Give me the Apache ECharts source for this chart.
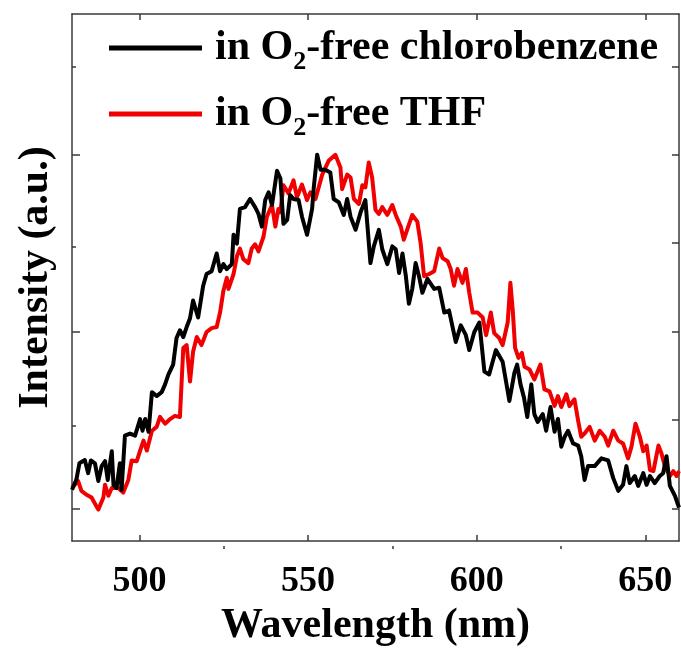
<!DOCTYPE html>
<html>
<head>
<meta charset="UTF-8">
<title>Emission spectra</title>
<style>
html,body{margin:0;padding:0;background:#fff;}
#chart{width:681px;height:652px;}
</style>
</head>
<body>
<div id="chart"></div>
<script src="https://cdn.jsdelivr.net/npm/echarts@6/dist/echarts.min.js"></script>
<script>
// values: wavelength (nm) and normalised intensity
let cbWave = [480.0,481.3,482.2,483.8,484.8,485.6,486.8,487.8,488.8,489.8,490.6,491.8,492.3,493.2,494.2,494.7,495.7,497.2,498.7,500.2,500.9,501.7,502.7,503.7,505.1,506.6,507.6,508.6,510.0,511.0,512.0,513.0,514.0,515.0,515.9,517.4,518.9,519.9,521.4,522.9,523.9,524.9,525.9,527.4,527.9,528.9,529.8,531.3,532.8,534.3,535.3,536.3,537.3,538.3,539.3,540.8,541.8,542.7,543.8,544.7,545.7,547.2,548.2,549.7,551.2,551.7,552.7,553.7,555.1,556.6,557.6,559.1,560.6,561.6,562.6,564.1,565.6,567.0,568.5,569.5,571.0,572.0,573.5,575.0,576.0,577.0,578.0,579.0,579.9,580.9,581.9,582.9,583.9,585.4,587.4,588.9,590.4,591.8,593.8,595.3,596.8,597.8,599.3,600.8,602.3,603.7,605.7,607.7,609.7,611.2,612.0,613.0,614.0,615.0,616.2,617.1,618.1,619.6,620.6,621.9,623.1,624.1,625.1,626.1,627.1,628.6,630.1,631.0,632.0,633.0,635.0,637.0,639.0,640.5,642.0,643.4,644.4,645.4,646.9,647.9,649.4,650.4,651.4,652.8,654.3,655.3,656.3,657.3,658.8,660.0];
let cbInt = [0.053,0.082,0.128,0.137,0.100,0.136,0.128,0.078,0.120,0.134,0.081,0.162,0.067,0.058,0.128,0.053,0.206,0.212,0.206,0.253,0.220,0.253,0.217,0.329,0.318,0.329,0.351,0.379,0.407,0.482,0.504,0.485,0.513,0.538,0.588,0.540,0.630,0.663,0.671,0.721,0.671,0.691,0.677,0.691,0.774,0.749,0.847,0.852,0.875,0.852,0.833,0.797,0.872,0.894,0.858,0.955,0.933,0.805,0.816,0.886,0.875,0.872,0.825,0.774,0.847,0.908,1.000,0.958,0.958,0.950,0.875,0.866,0.830,0.875,0.825,0.788,0.838,0.872,0.694,0.741,0.788,0.733,0.691,0.741,0.733,0.666,0.721,0.657,0.579,0.621,0.694,0.657,0.610,0.649,0.621,0.624,0.554,0.560,0.471,0.518,0.490,0.448,0.499,0.526,0.387,0.379,0.448,0.415,0.304,0.384,0.407,0.351,0.315,0.259,0.351,0.267,0.245,0.267,0.220,0.287,0.217,0.253,0.175,0.203,0.220,0.184,0.178,0.148,0.081,0.120,0.120,0.142,0.136,0.086,0.050,0.067,0.120,0.072,0.092,0.064,0.100,0.067,0.092,0.072,0.092,0.100,0.148,0.064,0.036,0.003];

let thfWave = [480.0,481.8,482.8,484.3,485.8,487.8,489.3,489.8,490.8,491.8,493.7,495.2,496.7,497.7,499.2,500.2,501.2,502.2,503.7,505.1,506.1,507.6,509.1,510.5,512.0,513.0,514.0,515.0,515.9,517.0,518.4,519.9,521.4,522.9,523.9,524.9,525.9,526.4,527.9,528.9,529.8,530.8,532.3,533.3,534.3,535.3,536.8,537.8,539.3,540.3,541.2,541.8,542.7,544.2,545.7,546.7,548.2,549.7,550.7,552.2,554.2,556.1,558.1,559.6,560.1,561.6,562.6,563.6,565.1,566.1,567.0,568.0,569.0,570.0,571.0,572.0,573.5,575.0,576.0,577.5,578.4,579.5,580.9,582.4,583.4,584.4,585.9,587.4,588.9,589.9,591.4,592.3,593.3,594.3,595.8,596.8,597.8,598.8,600.3,601.8,602.8,604.2,605.2,606.7,607.7,609.2,610.0,610.7,611.4,612.4,613.4,614.2,615.7,617.1,618.9,620.1,621.6,623.1,624.1,625.1,626.6,627.5,629.0,630.1,631.0,632.0,633.5,635.0,636.5,638.0,639.0,640.5,642.0,643.4,644.9,645.9,647.1,648.4,649.4,650.4,651.4,652.4,653.9,654.8,655.8,657.3,658.3,659.3,660.0];
let thfInt = [0.058,0.078,0.050,0.039,0.031,-0.003,0.031,0.067,0.036,0.058,0.058,0.045,0.081,0.136,0.134,0.164,0.192,0.164,0.220,0.231,0.259,0.240,0.253,0.262,0.259,0.454,0.462,0.359,0.443,0.485,0.462,0.499,0.510,0.513,0.554,0.616,0.652,0.621,0.663,0.713,0.735,0.705,0.694,0.735,0.747,0.727,0.769,0.825,0.858,0.797,0.847,0.838,0.914,0.891,0.928,0.880,0.916,0.872,0.894,0.875,0.944,0.983,1.000,0.964,0.903,0.944,0.936,0.875,0.861,0.914,0.908,0.978,0.936,0.844,0.833,0.852,0.830,0.858,0.830,0.797,0.760,0.791,0.830,0.811,0.749,0.657,0.663,0.671,0.735,0.708,0.699,0.677,0.630,0.677,0.638,0.677,0.610,0.554,0.554,0.540,0.490,0.554,0.496,0.482,0.462,0.526,0.638,0.560,0.454,0.426,0.440,0.401,0.393,0.365,0.407,0.337,0.331,0.290,0.318,0.287,0.323,0.290,0.309,0.248,0.203,0.212,0.231,0.192,0.220,0.203,0.178,0.220,0.192,0.184,0.142,0.175,0.240,0.203,0.162,0.178,0.109,0.106,0.178,0.156,0.120,0.092,0.106,0.092,0.106];

let majorX = [500, 550, 600, 650];
let minorX = [525, 575, 625];
let majorY = [0, 0.5, 1];
let minorY = [0.25, 0.75, 1.25];
let names = ['in O2-free chlorobenzene', 'in O2-free THF'];

let font = '"Liberation Serif", serif';
let frame = '#3a3a3a';

function pairs(xs, ys) {
    return xs.map((x, i) => [x, ys[i]]);
}

let box = {left: 72, right: 2, top: 14, bottom: 103};

let chart = echarts.init(document.getElementById('chart'));

let xBase = {type: 'value', min: 480, max: 660, splitLine: {show: false}};
let yBase = {type: 'value', min: -0.092, max: 1.398, splitLine: {show: false}};
let edge = {show: true, onZero: false, lineStyle: {color: frame, width: 1.5}};

let option = {
    animation: false,
    backgroundColor: '#fff',
    grid: [
        Object.assign({}, box),
        Object.assign({}, box)
    ],
    legend: {
        orient: 'vertical',
        left: 104,
        top: 16,
        itemGap: 12,
        itemWidth: 93,
        itemHeight: 5,
        icon: 'rect',
        data: names,
        formatter: function (name) {
            let rest = name.split('O2')[1];
            return '{a|in O}{s|2}{b|' + rest + '}';
        },
        textStyle: {
            rich: {
                a: {fontFamily: font, fontWeight: 'bold', fontSize: 42, color: '#000', lineHeight: 44, padding: [0, 0, 0, 8]},
                s: {fontFamily: font, fontWeight: 'bold', fontSize: 26, color: '#000', lineHeight: 26, padding: [28, 0, 0, 0]},
                b: {fontFamily: font, fontWeight: 'bold', fontSize: 42, color: '#000', lineHeight: 44}
            }
        }
    },
    xAxis: [
        Object.assign({}, xBase, {
            gridIndex: 0,
            position: 'bottom',
            axisLine: edge,
            axisTick: {show: true, inside: true, length: 6, customValues: majorX, lineStyle: {color: frame, width: 1.5}},
            axisLabel: {customValues: majorX, fontFamily: font, fontWeight: 'bold', fontSize: 36, color: '#000', margin: 23},
            name: 'Wavelength (nm)',
            nameLocation: 'middle',
            nameGap: 62,
            nameTextStyle: {fontFamily: font, fontWeight: 'bold', fontSize: 42, color: '#000'}
        }),
        Object.assign({}, xBase, {
            gridIndex: 0,
            position: 'top',
            axisLine: edge,
            axisTick: {show: true, inside: true, length: 6, customValues: majorX, lineStyle: {color: frame, width: 1.5}},
            axisLabel: {show: false}
        }),
        Object.assign({}, xBase, {
            gridIndex: 1,
            position: 'bottom',
            axisLine: {show: false, onZero: false},
            axisTick: {show: true, inside: true, length: 3, customValues: minorX, lineStyle: {color: frame, width: 1.5}},
            axisLabel: {show: false}
        })
    ],
    yAxis: [
        Object.assign({}, yBase, {
            gridIndex: 0,
            position: 'left',
            axisLine: edge,
            axisTick: {show: true, inside: true, length: 8, customValues: majorY, lineStyle: {color: frame, width: 1.5}},
            axisLabel: {show: false},
            name: 'Intensity (a.u.)',
            nameLocation: 'middle',
            nameGap: 15,
            nameTextStyle: {fontFamily: font, fontWeight: 'bold', fontSize: 42, color: '#000'}
        }),
        Object.assign({}, yBase, {
            gridIndex: 0,
            position: 'right',
            axisLine: edge,
            axisTick: {show: true, inside: true, length: 7, customValues: majorY.concat(minorY), lineStyle: {color: frame, width: 1.5}},
            axisLabel: {show: false}
        }),
        Object.assign({}, yBase, {
            gridIndex: 1,
            position: 'left',
            axisLine: {show: false, onZero: false},
            axisTick: {show: true, inside: true, length: 4, customValues: minorY, lineStyle: {color: frame, width: 1.5}},
            axisLabel: {show: false}
        })
    ],
    series: [
        {
            name: names[1],
            type: 'line',
            xAxisIndex: 0,
            yAxisIndex: 0,
            data: pairs(thfWave, thfInt),
            showSymbol: false,
            lineStyle: {color: '#f00000', width: 4, join: 'round'},
            itemStyle: {color: '#f00000'}
        },
        {
            name: names[0],
            type: 'line',
            xAxisIndex: 0,
            yAxisIndex: 0,
            data: pairs(cbWave, cbInt),
            showSymbol: false,
            lineStyle: {color: '#000', width: 4, join: 'round'},
            itemStyle: {color: '#000'}
        }
    ]
};

chart.setOption(option);
</script>
</body>
</html>
